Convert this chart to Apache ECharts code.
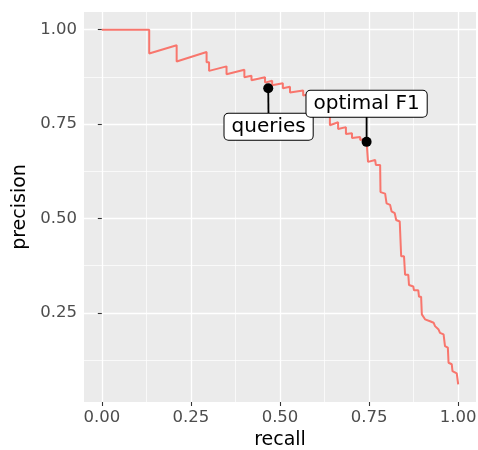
<!DOCTYPE html>
<html>
<head>
<meta charset="utf-8">
<script src="https://cdn.jsdelivr.net/npm/echarts@6/dist/echarts.min.js"></script>
<style>
  html, body { margin: 0; padding: 0; background: #fff; }
  #app { width: 478px; height: 450px; }
</style>
</head>
<body>
<div id="app"></div>
<script>
// PR curve vertices
const recall = [
  0, 0.133, 0.133, 0.210, 0.210, 0.294, 0.294, 0.301, 0.301, 0.350,
  0.350, 0.400, 0.400, 0.420, 0.420, 0.458, 0.458, 0.478, 0.478, 0.508,
  0.508, 0.528, 0.528, 0.565, 0.565, 0.593, 0.593, 0.624, 0.624, 0.640,
  0.640, 0.663, 0.663, 0.685, 0.685, 0.702, 0.702, 0.725, 0.725, 0.743,
  0.743, 0.747, 0.747, 0.767, 0.769, 0.781, 0.782, 0.795, 0.799, 0.809,
  0.813, 0.822, 0.826, 0.836, 0.840, 0.848, 0.851, 0.860, 0.862, 0.874,
  0.876, 0.888, 0.890, 0.896, 0.898, 0.907, 0.921, 0.931, 0.935, 0.945,
  0.949, 0.959, 0.963, 0.971, 0.973, 0.982, 0.984, 0.996, 1.0, 1.0
];
const precision = [
  1.0, 1.0, 0.937, 0.959, 0.916, 0.941, 0.914, 0.914, 0.891, 0.903,
  0.882, 0.894, 0.874, 0.878, 0.866, 0.874, 0.860, 0.865, 0.853, 0.858,
  0.845, 0.849, 0.834, 0.839, 0.826, 0.832, 0.805, 0.810, 0.781, 0.787,
  0.747, 0.755, 0.737, 0.742, 0.724, 0.726, 0.713, 0.716, 0.708, 0.712,
  0.703, 0.703, 0.650, 0.655, 0.642, 0.642, 0.570, 0.566, 0.540, 0.536,
  0.519, 0.514, 0.496, 0.492, 0.400, 0.400, 0.351, 0.351, 0.324, 0.320,
  0.310, 0.310, 0.293, 0.293, 0.246, 0.233, 0.228, 0.224, 0.215, 0.206,
  0.197, 0.193, 0.162, 0.158, 0.118, 0.114, 0.096, 0.090, 0.090, 0.061
];

// annotated points and where their labels sit
const markNames = ['queries', 'optimal F1'];
const markRecall = [0.467, 0.743];
const markPrecision = [0.845, 0.703];
const labelRecall = [0.468, 0.743];
const labelPrecision = [0.743, 0.804];

const majorTicks = [0, 0.25, 0.5, 0.75, 1];
const minorTicks = [0.125, 0.375, 0.625, 0.875];

const FONT = 'DejaVu Sans';

function axisPair(name, pos, posMinor, min, max, nameGap, labelMargin) {
  return [{
    type: 'value', min: min, max: max, position: pos,
    name: name, nameLocation: 'middle', nameGap: nameGap,
    nameTextStyle: { color: '#000', fontSize: 19, fontFamily: FONT },
    axisLine: { show: false },
    axisTick: { show: true, length: 4, customValues: majorTicks, lineStyle: { color: '#333', width: 1.1 } },
    axisLabel: { customValues: majorTicks, formatter: v => v.toFixed(2), color: '#4D4D4D', fontSize: 16.5, fontFamily: FONT, margin: labelMargin },
    splitLine: { show: true, lineStyle: { color: '#fff', width: 1.3 } }
  }, {
    type: 'value', min: min, max: max, position: posMinor,
    axisLine: { show: false },
    axisTick: { show: false, customValues: minorTicks },
    axisLabel: { show: false, customValues: minorTicks },
    splitLine: { show: true, lineStyle: { color: '#fff', width: 0.7 } }
  }];
}

const chart = echarts.init(document.getElementById('app'));

const curve = recall.map((r, i) => [r, precision[i]]);
const series = [{
  type: 'line', data: curve, showSymbol: false, animation: false, z: 2,
  lineStyle: { color: '#F8766D', width: 2 }
}];
markNames.forEach((n, i) => {
  series.push({
    type: 'line', showSymbol: false, animation: false, z: 3,
    data: [[markRecall[i], markPrecision[i]], [labelRecall[i], labelPrecision[i]]],
    lineStyle: { color: '#000', width: 1.8 }
  });
});
series.push({
  type: 'scatter', animation: false, z: 4, symbolSize: 10,
  itemStyle: { color: '#000', opacity: 1 },
  data: markRecall.map((r, i) => [r, markPrecision[i]])
});
series.push({
  type: 'scatter', animation: false, z: 5, symbolSize: 0,
  itemStyle: { opacity: 1 },
  data: markNames.map((n, i) => ({ name: n, value: [labelRecall[i], labelPrecision[i]] })),
  label: {
    show: true, position: 'inside', formatter: p => p.name,
    color: '#000', fontSize: 20, fontFamily: FONT,
    backgroundColor: '#fff', borderColor: '#000', borderWidth: 1, borderRadius: 4,
    padding: [2, 7, 1, 7], lineHeight: 23
  }
});

const xa = axisPair('recall', 'bottom', 'top', -0.05, 1.05, 27, 7);
const ya = axisPair('precision', 'left', 'right', 0.014, 1.047, 49, 7);

chart.setOption({
  animation: false,
  grid: {
    left: 84, top: 12, width: 392, height: 390, outerBoundsMode: 'none',
    show: true, backgroundColor: '#EBEBEB', borderWidth: 0
  },
  xAxis: xa,
  yAxis: ya,
  series: series
});
</script>
</body>
</html>
